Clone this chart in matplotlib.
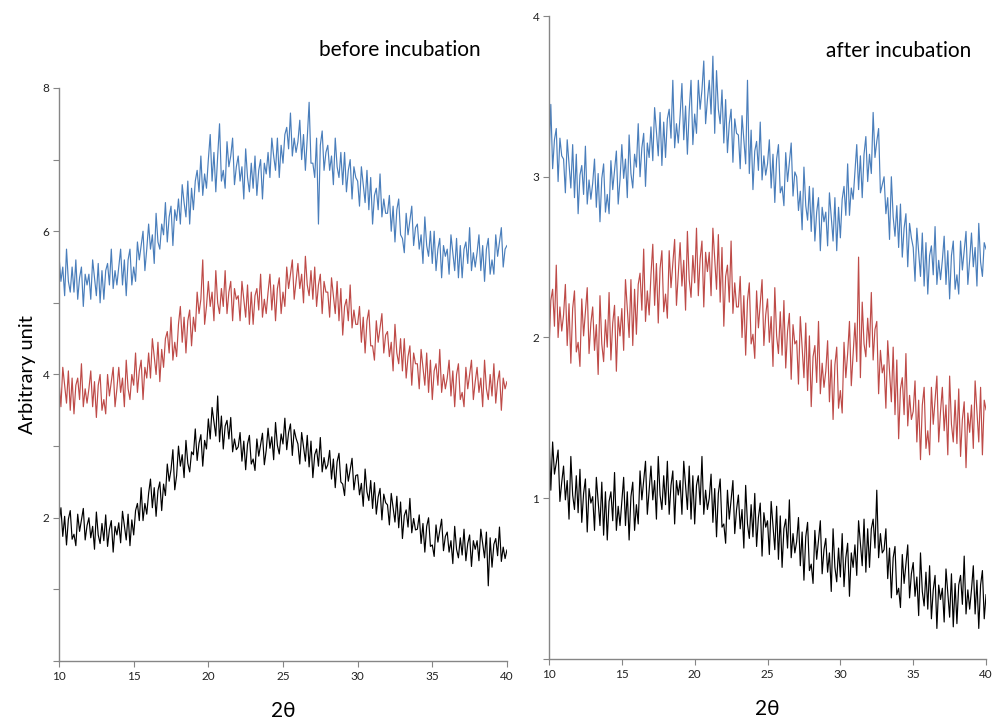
import matplotlib.pyplot as plt
import numpy as np

plt.rcParams["font.family"] = ["Lato", "DejaVu Sans"]

# 2-theta grid, 0.125 deg step (241 points)
two_theta = np.arange(10, 40.001, 0.125)

# before incubation, one row per degree
before_blue = [
    5.65, 5.3, 5.5, 5.1, 5.75, 5.3, 5.15, 5.5,
    5.15, 5.6, 5.05, 5.35, 5.5, 4.95, 5.4, 5.25,
    5.4, 5.05, 5.6, 5.35, 5.1, 5.55, 5.0, 5.45,
    5.05, 5.45, 5.55, 5.25, 5.75, 5.2, 5.45, 5.25,
    5.5, 5.75, 5.25, 5.6, 5.1, 5.6, 5.75, 5.25,
    5.5, 5.3, 5.85, 5.6, 5.8, 6.0, 5.45, 5.75,
    6.1, 5.75, 5.95, 5.55, 6.25, 5.85, 5.75, 6.1,
    5.95, 6.4, 5.85, 6.2, 6.35, 5.8, 6.3, 6.15,
    6.45, 6.1, 6.65, 6.4, 6.2, 6.7, 6.1, 6.6,
    6.3, 6.7, 6.85, 6.55, 7.05, 6.5, 6.8, 6.6,
    7.0, 7.35, 6.7, 7.1, 6.55, 7.05, 7.5, 6.7,
    6.85, 6.6, 7.25, 6.9, 7.05, 7.3, 6.65, 6.9,
    7.05, 6.7, 6.9, 6.45, 7.15, 6.75, 6.55, 6.95,
    6.6, 7.05, 6.5, 6.85, 7.0, 6.45, 6.95, 6.8,
    7.1, 6.75, 7.3, 7.05, 6.85, 7.3, 6.75, 7.2,
    6.95, 7.35, 7.45, 7.15, 7.65, 7.05, 7.3, 7.1,
    7.25, 7.55, 7.0, 7.35, 6.85, 7.3, 7.8, 6.95,
    6.95, 6.75, 7.3, 6.1, 7.2, 7.4, 6.85, 7.1,
    7.2, 6.85, 7.05, 6.65, 7.3, 6.9, 6.75, 7.1,
    6.65, 7.1, 6.55, 6.85, 7.0, 6.45, 6.9, 6.75,
    6.7, 6.35, 6.9, 6.65, 6.4, 6.85, 6.3, 6.75,
    6.1, 6.5, 6.6, 6.3, 6.8, 6.2, 6.45, 6.25,
    6.25, 6.5, 6.0, 6.35, 5.85, 6.3, 6.45, 5.95,
    5.9, 5.7, 6.25, 5.95, 6.15, 6.35, 5.8, 6.05,
    6.1, 5.75, 5.95, 5.55, 6.2, 5.8, 5.65, 6.0,
    5.55, 6.0, 5.45, 5.75, 5.9, 5.35, 5.8, 5.65,
    5.75, 5.4, 5.95, 5.7, 5.45, 5.9, 5.35, 5.8,
    5.35, 5.75, 5.85, 5.55, 6.05, 5.45, 5.7, 5.5,
    5.7, 5.95, 5.45, 5.8, 5.3, 5.75, 5.9, 5.4,
    5.6, 5.4, 5.95, 5.65, 5.85, 6.05, 5.5, 5.75,
    5.8,
]
before_red = [
    3.9, 3.55, 4.1, 3.85, 3.6, 4.05, 3.5, 3.95,
    3.45, 3.85, 3.95, 3.65, 4.15, 3.55, 3.8, 3.6,
    3.8, 4.05, 3.55, 3.9, 3.4, 3.85, 4.0, 3.5,
    3.65, 3.45, 4.0, 3.7, 3.9, 4.1, 3.55, 3.8,
    4.1, 3.75, 3.95, 3.55, 4.2, 3.8, 3.65, 4.0,
    3.85, 4.3, 3.75, 4.05, 4.2, 3.65, 4.1, 3.95,
    4.3, 3.95, 4.5, 4.25, 4.0, 4.45, 3.9, 4.35,
    4.1, 4.5, 4.6, 4.3, 4.8, 4.2, 4.45, 4.25,
    4.7, 4.95, 4.45, 4.8, 4.3, 4.75, 4.9, 4.4,
    4.8, 4.6, 5.15, 4.85, 5.05, 5.6, 4.7, 4.95,
    5.3, 4.95, 5.15, 4.75, 5.45, 5.0, 4.85, 5.2,
    4.95, 5.45, 4.85, 5.15, 5.3, 4.75, 5.2, 5.05,
    5.1, 4.75, 5.3, 5.05, 4.8, 5.25, 4.7, 5.15,
    4.7, 5.1, 5.2, 4.9, 5.4, 4.8, 5.05, 4.85,
    5.15, 5.4, 4.9, 5.25, 4.75, 5.2, 5.35, 4.85,
    5.15, 4.95, 5.5, 5.2, 5.4, 5.6, 5.05, 5.3,
    5.55, 5.2, 5.4, 5.0, 5.65, 5.25, 5.1, 5.45,
    5.05, 5.5, 4.95, 5.25, 5.4, 4.85, 5.3, 5.15,
    5.15, 4.8, 5.35, 5.1, 4.85, 5.3, 4.75, 5.2,
    4.55, 4.95, 5.05, 4.75, 5.25, 4.65, 4.9, 4.7,
    4.7, 4.95, 4.45, 4.8, 4.3, 4.75, 4.9, 4.4,
    4.4, 4.2, 4.75, 4.45, 4.65, 4.85, 4.3, 4.55,
    4.6, 4.25, 4.45, 4.05, 4.7, 4.3, 4.15, 4.5,
    4.05, 4.5, 3.95, 4.25, 4.4, 3.85, 4.3, 4.15,
    4.15, 3.8, 4.35, 4.1, 3.85, 4.3, 3.75, 4.2,
    3.65, 4.05, 4.15, 3.85, 4.35, 3.75, 4.0, 3.8,
    3.95, 4.2, 3.7, 4.05, 3.55, 4.0, 4.15, 3.65,
    3.75, 3.55, 4.1, 3.8, 4.0, 4.2, 3.65, 3.9,
    4.1, 3.75, 3.95, 3.55, 4.2, 3.8, 3.65, 4.0,
    3.7, 4.15, 3.6, 3.9, 4.05, 3.5, 3.95, 3.8,
    3.9,
]
before_black = [
    1.94, 2.14, 1.74, 2.02, 1.62, 1.98, 2.1, 1.7,
    1.77, 1.61, 2.05, 1.81, 1.97, 2.13, 1.69, 1.89,
    2.0, 1.72, 1.88, 1.56, 2.08, 1.76, 1.64, 1.92,
    1.68, 2.04, 1.6, 1.84, 1.96, 1.52, 1.88, 1.76,
    1.93, 1.65, 2.09, 1.89, 1.69, 2.05, 1.61, 1.97,
    1.76, 2.1, 2.2, 1.96, 2.42, 1.96, 2.2, 2.05,
    2.34, 2.54, 2.14, 2.42, 2.02, 2.38, 2.5, 2.1,
    2.47, 2.31, 2.75, 2.51, 2.67, 2.95, 2.39, 2.59,
    3.0, 2.72, 2.88, 2.56, 3.08, 2.76, 2.64, 2.92,
    2.88, 3.24, 2.8, 3.04, 3.16, 2.72, 3.08, 2.96,
    3.38, 3.1, 3.54, 3.34, 3.14, 3.7, 3.06, 3.42,
    2.96, 3.28, 3.36, 3.1, 3.4, 2.92, 3.1, 2.95,
    2.99, 3.19, 2.79, 3.07, 2.67, 3.03, 3.15, 2.75,
    2.82, 2.66, 3.1, 2.86, 3.02, 3.18, 2.74, 2.94,
    3.25, 2.97, 3.13, 2.81, 3.33, 3.01, 2.89, 3.17,
    3.03, 3.39, 2.95, 3.19, 3.31, 2.87, 3.23, 3.11,
    3.03, 2.75, 3.19, 2.99, 2.79, 3.15, 2.71, 3.07,
    2.56, 2.88, 2.96, 2.72, 3.12, 2.64, 2.84, 2.68,
    2.74, 2.94, 2.54, 2.82, 2.42, 2.78, 2.9, 2.5,
    2.47, 2.31, 2.75, 2.51, 2.67, 2.83, 2.39, 2.59,
    2.6, 2.32, 2.48, 2.16, 2.68, 2.36, 2.24, 2.52,
    2.13, 2.49, 2.05, 2.29, 2.41, 1.97, 2.33, 2.21,
    2.18, 1.9, 2.34, 2.14, 1.94, 2.3, 1.86, 2.22,
    1.71, 2.03, 2.11, 1.87, 2.27, 1.79, 1.99, 1.83,
    1.84, 2.04, 1.64, 1.92, 1.52, 1.88, 2.0, 1.6,
    1.62, 1.46, 1.9, 1.66, 1.82, 1.98, 1.54, 1.74,
    1.8, 1.52, 1.68, 1.36, 1.88, 1.56, 1.44, 1.72,
    1.48, 1.84, 1.4, 1.64, 1.76, 1.32, 1.68, 1.56,
    1.68, 1.4, 1.84, 1.64, 1.44, 1.8, 1.05, 1.72,
    1.31, 1.63, 1.71, 1.47, 1.87, 1.39, 1.59, 1.43,
    1.55,
]

# after incubation
after_blue = [
    3.11, 3.45, 3.05, 3.23, 3.3, 2.97, 3.24, 3.13,
    3.11, 2.9, 3.23, 3.08, 2.93, 3.2, 2.87, 3.14,
    2.77, 3.01, 3.07, 2.89, 3.19, 2.83, 2.98, 2.86,
    2.96, 3.11, 2.81, 3.02, 2.72, 2.99, 3.08, 2.78,
    2.89, 2.77, 3.1, 2.92, 3.04, 3.16, 2.83, 2.98,
    3.2, 2.99, 3.11, 2.87, 3.26, 3.02, 2.93, 3.14,
    3.06, 3.33, 3.0, 3.18, 3.27, 2.94, 3.21, 3.12,
    3.31, 3.1, 3.43, 3.28, 3.13, 3.4, 3.07, 3.34,
    3.12, 3.36, 3.42, 3.24, 3.6, 3.18, 3.33, 3.21,
    3.38, 3.58, 3.23, 3.44, 3.14, 3.41, 3.6, 3.2,
    3.39, 3.27, 3.6, 3.42, 3.54, 3.72, 3.33, 3.48,
    3.6, 3.39, 3.75, 3.27, 3.66, 3.42, 3.33, 3.54,
    3.21, 3.48, 3.15, 3.33, 3.42, 3.09, 3.36, 3.27,
    3.26, 3.05, 3.38, 3.23, 3.08, 3.6, 3.02, 3.29,
    2.92, 3.16, 3.22, 3.04, 3.34, 2.98, 3.13, 3.01,
    3.08, 3.23, 2.93, 3.14, 2.84, 3.11, 3.2, 2.9,
    2.94, 2.82, 3.15, 2.97, 3.09, 3.21, 2.88, 3.03,
    3.0, 2.79, 2.91, 2.67, 3.06, 2.82, 2.73, 2.94,
    2.66, 2.93, 2.6, 2.78, 2.87, 2.54, 2.81, 2.72,
    2.78, 2.57, 2.9, 2.75, 2.6, 2.87, 2.54, 2.81,
    2.62, 2.86, 2.94, 2.76, 3.08, 2.76, 2.93, 2.86,
    3.03, 3.2, 2.92, 3.13, 2.87, 3.14, 3.25, 2.97,
    3.14, 3.02, 3.4, 3.12, 3.22, 3.3, 2.9, 2.95,
    3.0, 2.77, 2.87, 2.61, 3.0, 2.75, 2.63, 2.82,
    2.56, 2.83, 2.5, 2.68, 2.77, 2.44, 2.71, 2.62,
    2.56, 2.35, 2.68, 2.53, 2.38, 2.65, 2.32, 2.59,
    2.27, 2.51, 2.57, 2.39, 2.69, 2.33, 2.48, 2.36,
    2.48, 2.63, 2.33, 2.54, 2.24, 2.51, 2.6, 2.3,
    2.39, 2.27, 2.6, 2.42, 2.54, 2.66, 2.33, 2.48,
    2.65, 2.44, 2.56, 2.32, 2.71, 2.47, 2.38, 2.59,
    2.55,
]
after_red = [
    1.92, 2.23, 2.3, 2.07, 2.45, 2.0, 2.19, 2.04,
    2.14, 2.33, 1.95, 2.21, 1.84, 2.18, 2.29, 1.91,
    1.97, 1.82, 2.24, 2.01, 2.16, 2.31, 1.9, 2.09,
    2.19, 1.92, 2.08, 1.77, 2.26, 1.96, 1.85, 2.11,
    1.94, 2.28, 1.86, 2.09, 2.2, 1.79, 2.13, 2.01,
    2.18, 1.92, 2.36, 2.18, 2.0, 2.36, 1.95, 2.3,
    2.02, 2.33, 2.4, 2.17, 2.55, 2.1, 2.29, 2.14,
    2.39, 2.58, 2.2, 2.46, 2.09, 2.43, 2.54, 2.16,
    2.27, 2.12, 2.54, 2.31, 2.46, 2.61, 2.2, 2.39,
    2.59, 2.32, 2.48, 2.17, 2.66, 2.36, 2.25, 2.51,
    2.34, 2.68, 2.26, 2.49, 2.6, 2.19, 2.53, 2.41,
    2.53, 2.26, 2.68, 2.49, 2.3, 2.64, 2.22, 2.56,
    2.07, 2.38, 2.45, 2.22, 2.6, 2.15, 2.34, 2.19,
    2.19, 2.38, 2.0, 2.26, 1.89, 2.23, 2.34, 1.96,
    2.02, 1.87, 2.29, 2.06, 2.21, 2.36, 1.95, 2.14,
    2.24, 1.97, 2.13, 1.82, 2.31, 2.01, 1.9, 2.16,
    1.89, 2.23, 1.81, 2.04, 2.15, 1.74, 2.08, 1.96,
    1.98, 1.71, 2.13, 1.94, 1.75, 2.09, 1.67, 2.01,
    1.57, 1.88, 1.95, 1.72, 2.1, 1.65, 1.84, 1.69,
    1.79, 1.98, 1.6, 1.86, 1.49, 1.83, 1.94, 1.56,
    1.67, 1.53, 1.97, 1.75, 1.9, 2.1, 1.7, 1.9,
    2.09, 1.85, 2.5, 1.75, 2.22, 1.96, 1.88, 2.12,
    1.94, 2.28, 1.86, 2.05, 2.1, 1.65, 1.92, 1.78,
    1.83, 1.56, 1.98, 1.79, 1.6, 1.94, 1.52, 1.86,
    1.37, 1.68, 1.75, 1.52, 1.9, 1.45, 1.64, 1.49,
    1.54, 1.73, 1.35, 1.61, 1.24, 1.58, 1.69, 1.31,
    1.42, 1.27, 1.69, 1.46, 1.61, 1.76, 1.35, 1.54,
    1.69, 1.42, 1.58, 1.27, 1.76, 1.46, 1.35, 1.61,
    1.34, 1.68, 1.26, 1.49, 1.6, 1.19, 1.53, 1.41,
    1.58, 1.31, 1.73, 1.54, 1.35, 1.69, 1.27, 1.61,
    1.55,
]
after_black = [
    1.4, 1.05, 1.35, 1.15, 1.22, 1.3, 0.98, 1.1,
    1.2, 0.99, 1.11, 0.87, 1.26, 1.02, 0.93, 1.14,
    0.91, 1.18, 0.85, 1.03, 1.12, 0.79, 1.06, 0.97,
    1.01, 0.8, 1.13, 0.98, 0.83, 1.1, 0.77, 1.04,
    0.74, 0.98, 1.04, 0.86, 1.16, 0.8, 0.95, 0.83,
    0.98, 1.13, 0.83, 1.04, 0.74, 1.01, 1.1, 0.8,
    0.96, 0.84, 1.17, 0.99, 1.11, 1.23, 0.9, 1.05,
    1.2, 0.99, 1.11, 0.87, 1.26, 1.02, 0.93, 1.14,
    0.96, 1.23, 0.9, 1.08, 1.17, 0.84, 1.11, 1.02,
    1.11, 0.9, 1.23, 1.08, 0.93, 1.2, 0.87, 1.14,
    0.84, 1.08, 1.14, 0.96, 1.26, 0.9, 1.05, 0.93,
    1.0, 1.15, 0.85, 1.06, 0.76, 1.03, 1.12, 0.82,
    0.84, 0.72, 1.05, 0.87, 0.99, 1.11, 0.78, 0.93,
    1.02, 0.81, 0.93, 0.69, 1.08, 0.84, 0.75, 0.96,
    0.76, 1.03, 0.7, 0.88, 0.97, 0.64, 0.91, 0.82,
    0.86, 0.65, 0.98, 0.83, 0.68, 0.95, 0.62, 0.89,
    0.57, 0.81, 0.87, 0.69, 0.99, 0.63, 0.78, 0.66,
    0.73, 0.88, 0.58, 0.79, 0.49, 0.76, 0.85, 0.55,
    0.59, 0.47, 0.8, 0.62, 0.74, 0.86, 0.53, 0.68,
    0.75, 0.54, 0.66, 0.42, 0.81, 0.57, 0.48, 0.69,
    0.51, 0.78, 0.45, 0.63, 0.72, 0.39, 0.66, 0.57,
    0.71, 0.52, 0.86, 0.72, 0.58, 0.87, 0.54, 0.81,
    0.57, 0.81, 0.87, 0.69, 1.05, 0.63, 0.78, 0.66,
    0.68, 0.81, 0.5, 0.69, 0.38, 0.63, 0.7, 0.4,
    0.44, 0.32, 0.65, 0.47, 0.59, 0.71, 0.38, 0.53,
    0.6, 0.39, 0.51, 0.27, 0.66, 0.42, 0.33, 0.54,
    0.31, 0.58, 0.25, 0.43, 0.52, 0.19, 0.46, 0.37,
    0.44, 0.23, 0.56, 0.41, 0.26, 0.53, 0.2, 0.47,
    0.22, 0.46, 0.52, 0.34, 0.64, 0.28, 0.43, 0.31,
    0.43, 0.58, 0.28, 0.49, 0.19, 0.46, 0.55, 0.25,
    0.4,
]

BLUE = "#4a7ebb"
RED = "#be4b48"
BLACK = "#000000"
SPINE = "#868686"

fig = plt.figure(figsize=(9.94, 7.24), dpi=100)
ax1 = fig.add_axes([0.0594, 0.087, 0.4506, 0.7915])
ax2 = fig.add_axes([0.5523, 0.0898, 0.4397, 0.8881])


def style(ax, ylim, yticks, labels):
    ax.set_xlim(10, 40)
    ax.set_ylim(*ylim)
    ax.set_xticks(range(10, 41, 5))
    ax.set_yticks(yticks)
    ax.set_yticklabels(labels)
    for side in ("top", "right"):
        ax.spines[side].set_visible(False)
    for side in ("left", "bottom"):
        ax.spines[side].set_color(SPINE)
        ax.spines[side].set_linewidth(1)
    ax.tick_params(direction="out", length=4, color=SPINE, labelsize=8.5,
                   labelcolor="#222222", pad=3)
    ax.set_xlabel("2θ", fontsize=15, labelpad=14)


for ax, series in ((ax1, (before_blue, before_red, before_black)),
                   (ax2, (after_blue, after_red, after_black))):
    for ys, c in zip(series, (BLUE, RED, BLACK)):
        ax.plot(two_theta, ys, color=c, lw=0.85)

style(ax1, (0, 8), range(0, 9), ["", "", "2", "", "4", "", "6", "", "8"])
style(ax2, (0, 4), range(0, 5), ["", "1", "2", "3", "4"])

ax1.set_ylabel("Arbitrary unit", fontsize=14.5, labelpad=5)
fig.text(0.402, 0.922, "before incubation", fontsize=15, ha="center",
         va="baseline")
fig.text(0.904, 0.921, "after incubation", fontsize=15, ha="center",
         va="baseline")

fig.savefig("out.png", dpi=100)
